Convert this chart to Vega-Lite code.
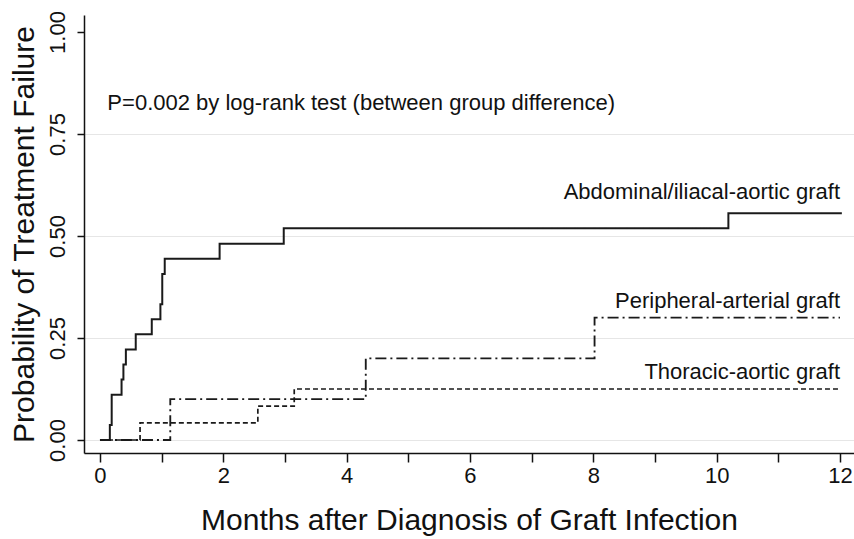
{
  "$schema": "https://vega.github.io/schema/vega-lite/v6.json",
  "width": 770,
  "height": 438,
  "autosize": {"type": "none"},
  "padding": {"left": 84, "top": 15, "right": 0, "bottom": 86},
  "background": "white",
  "config": {
    "view": {"stroke": null},
    "font": "Liberation Sans",
    "axis": {
      "labelFont": "Liberation Sans",
      "titleFont": "Liberation Sans",
      "labelColor": "#111",
      "titleColor": "#111",
      "titleFontWeight": "normal",
      "domainColor": "#111",
      "tickColor": "#111",
      "domainWidth": 1.5,
      "tickWidth": 1.5
    }
  },
  "datasets": {
    "curves": [
      {"group": "Abdominal/iliacal-aortic graft", "month": 0, "prob": 0},
      {"group": "Abdominal/iliacal-aortic graft", "month": 0.16, "prob": 0.037},
      {"group": "Abdominal/iliacal-aortic graft", "month": 0.19, "prob": 0.111},
      {"group": "Abdominal/iliacal-aortic graft", "month": 0.35, "prob": 0.148},
      {"group": "Abdominal/iliacal-aortic graft", "month": 0.38, "prob": 0.185},
      {"group": "Abdominal/iliacal-aortic graft", "month": 0.42, "prob": 0.222},
      {"group": "Abdominal/iliacal-aortic graft", "month": 0.58, "prob": 0.259},
      {"group": "Abdominal/iliacal-aortic graft", "month": 0.84, "prob": 0.296},
      {"group": "Abdominal/iliacal-aortic graft", "month": 0.98, "prob": 0.333},
      {"group": "Abdominal/iliacal-aortic graft", "month": 1.01, "prob": 0.407},
      {"group": "Abdominal/iliacal-aortic graft", "month": 1.05, "prob": 0.444},
      {"group": "Abdominal/iliacal-aortic graft", "month": 1.94, "prob": 0.481},
      {"group": "Abdominal/iliacal-aortic graft", "month": 2.98, "prob": 0.519},
      {"group": "Abdominal/iliacal-aortic graft", "month": 10.19, "prob": 0.556},
      {"group": "Abdominal/iliacal-aortic graft", "month": 12.03, "prob": 0.556},
      {"group": "Peripheral-arterial graft", "month": 0, "prob": 0},
      {"group": "Peripheral-arterial graft", "month": 1.14, "prob": 0.1},
      {"group": "Peripheral-arterial graft", "month": 4.31, "prob": 0.2},
      {"group": "Peripheral-arterial graft", "month": 8.02, "prob": 0.3},
      {"group": "Peripheral-arterial graft", "month": 12.0, "prob": 0.3},
      {"group": "Thoracic-aortic graft", "month": 0, "prob": 0},
      {"group": "Thoracic-aortic graft", "month": 0.65, "prob": 0.042},
      {"group": "Thoracic-aortic graft", "month": 2.56, "prob": 0.083},
      {"group": "Thoracic-aortic graft", "month": 3.15, "prob": 0.125},
      {"group": "Thoracic-aortic graft", "month": 12.0, "prob": 0.125}
    ],
    "curveLabels": [
      {"label": "Abdominal/iliacal-aortic graft", "month": 12.0, "prob": 0.608},
      {"label": "Peripheral-arterial graft", "month": 12.0, "prob": 0.341},
      {"label": "Thoracic-aortic graft", "month": 12.0, "prob": 0.167}
    ],
    "note": [
      {"label": "P=0.002 by log-rank test (between group difference)", "month": 0.12, "prob": 0.826}
    ]
  },
  "encoding": {
    "x": {
      "field": "month",
      "type": "quantitative",
      "scale": {"domain": [-0.259, 12.227], "nice": false, "zero": false},
      "axis": {
        "title": "Months after Diagnosis of Graft Infection",
        "titleFontSize": 30,
        "titlePadding": 19,
        "values": [0, 1, 2, 3, 4, 5, 6, 7, 8, 9, 10, 11, 12],
        "labelExpr": "datum.value % 2 == 0 ? datum.label : ''",
        "labelFontSize": 22,
        "labelPadding": 3,
        "tickSize": 9,
        "grid": false,
        "labelFlush": false
      }
    },
    "y": {
      "field": "prob",
      "type": "quantitative",
      "scale": {"domain": [-0.0319, 1.0417], "nice": false, "zero": false},
      "axis": {
        "title": "Probability of Treatment Failure",
        "titleFontSize": 30,
        "titlePadding": 7,
        "values": [0, 0.25, 0.5, 0.75, 1],
        "format": ".2f",
        "labelAngle": -90,
        "labelAlign": "center",
        "labelBaseline": "bottom",
        "labelFontSize": 22,
        "labelPadding": 8,
        "tickSize": 7,
        "grid": true,
        "gridColor": {"condition": {"test": "datum.value == 1", "value": "transparent"}, "value": "#e6e6e6"},
        "gridWidth": 1.2,
        "labelFlush": false
      }
    }
  },
  "layer": [
    {
      "data": {"name": "curves"},
      "mark": {"type": "line", "interpolate": "step-after", "color": "#1a1a1a"},
      "encoding": {
        "detail": {"field": "group", "type": "nominal"},
        "strokeDash": {
          "field": "group",
          "type": "nominal",
          "scale": {
            "domain": ["Abdominal/iliacal-aortic graft", "Peripheral-arterial graft", "Thoracic-aortic graft"],
            "range": [[1, 0], [11, 4, 2, 4], [5, 3]]
          },
          "legend": null
        },
        "strokeWidth": {
          "field": "group",
          "type": "nominal",
          "scale": {
            "domain": ["Abdominal/iliacal-aortic graft", "Peripheral-arterial graft", "Thoracic-aortic graft"],
            "range": [2, 1.7, 1.7]
          },
          "legend": null
        }
      }
    },
    {
      "data": {"name": "curveLabels"},
      "mark": {"type": "text", "align": "right", "baseline": "middle", "fontSize": 22, "color": "#111", "font": "Liberation Sans"},
      "encoding": {"text": {"field": "label"}}
    },
    {
      "data": {"name": "note"},
      "mark": {"type": "text", "align": "left", "baseline": "middle", "fontSize": 22, "color": "#111", "font": "Liberation Sans"},
      "encoding": {"text": {"field": "label"}}
    }
  ]
}
